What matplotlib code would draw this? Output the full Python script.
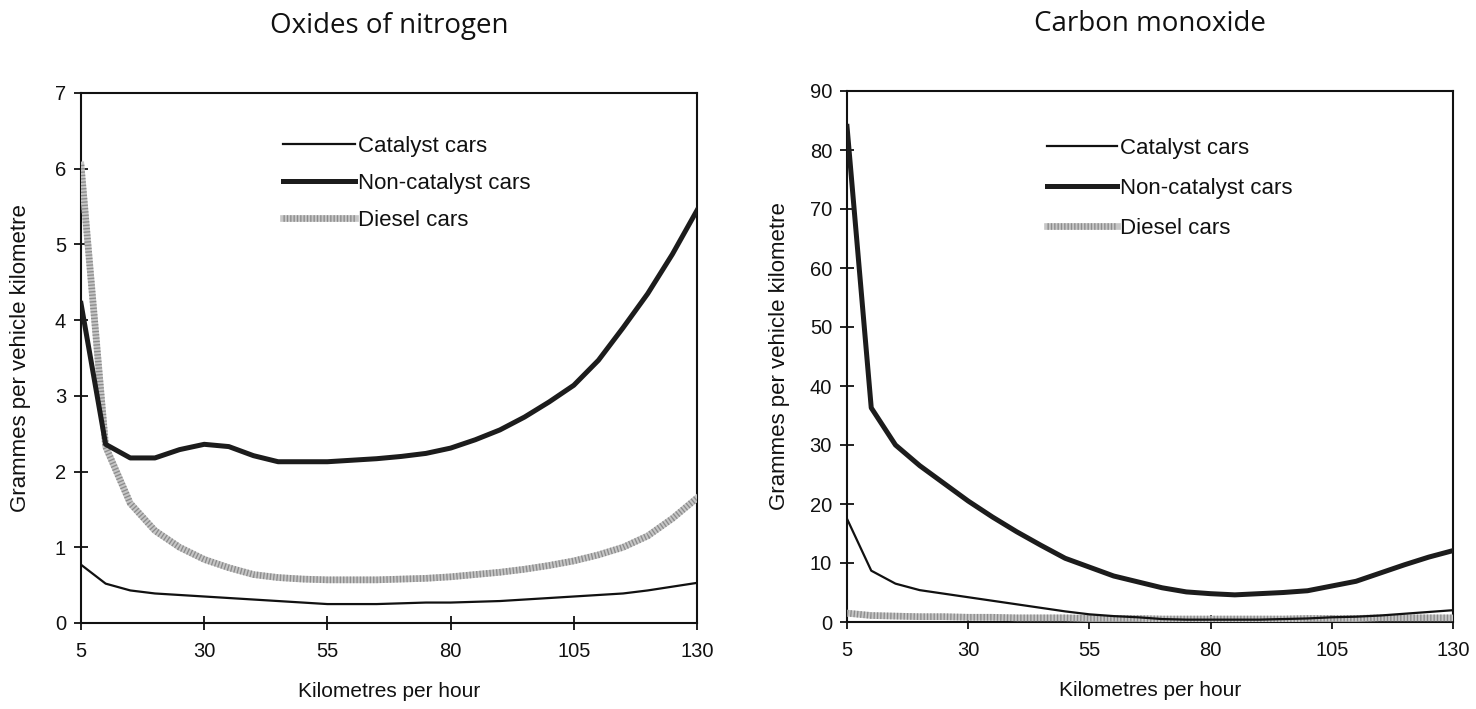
import matplotlib
matplotlib.use("Agg")
import matplotlib.pyplot as plt
from matplotlib.legend_handler import HandlerTuple

# Speeds (km/h)
speeds = [5, 10, 15, 20, 25, 30, 35, 40, 45, 50, 55, 60, 65,
          70, 75, 80, 85, 90, 95, 100, 105, 110, 115, 120, 125, 130]

# Oxides of nitrogen (g per vehicle km)
nox_catalyst = [0.77, 0.52, 0.43, 0.39, 0.37, 0.35, 0.33, 0.31, 0.29, 0.27, 0.25, 0.25, 0.25,
                0.26, 0.27, 0.27, 0.28, 0.29, 0.31, 0.33, 0.35, 0.37, 0.39, 0.43, 0.48, 0.53]
nox_noncatalyst = [4.22, 2.36, 2.18, 2.18, 2.29, 2.36, 2.33, 2.21, 2.13, 2.13, 2.13, 2.15, 2.17,
                   2.20, 2.24, 2.31, 2.42, 2.55, 2.72, 2.92, 3.14, 3.47, 3.90, 4.35, 4.87, 5.45]
nox_diesel = [6.05, 2.33, 1.58, 1.22, 1.00, 0.84, 0.73, 0.64, 0.60, 0.58, 0.57, 0.57, 0.57,
              0.58, 0.59, 0.61, 0.64, 0.67, 0.71, 0.76, 0.82, 0.90, 1.00, 1.15, 1.38, 1.65]

# Carbon monoxide (g per vehicle km)
co_catalyst = [17.5, 8.7, 6.5, 5.4, 4.8, 4.2, 3.6, 3.0, 2.4, 1.8, 1.3, 1.0, 0.8,
               0.5, 0.4, 0.4, 0.4, 0.4, 0.5, 0.6, 0.8, 0.9, 1.1, 1.4, 1.7, 2.0]
co_noncatalyst = [84.0, 36.3, 30.0, 26.5, 23.5, 20.5, 17.8, 15.3, 13.0, 10.8, 9.3, 7.8, 6.8,
                  5.8, 5.1, 4.8, 4.6, 4.8, 5.0, 5.3, 6.1, 6.9, 8.3, 9.7, 11.0, 12.1]
co_diesel = [1.5, 1.1, 1.0, 0.9, 0.9, 0.8, 0.8, 0.7, 0.7, 0.7, 0.6, 0.6, 0.6,
             0.5, 0.5, 0.5, 0.5, 0.5, 0.5, 0.6, 0.6, 0.6, 0.7, 0.7, 0.7, 0.7]

x_ticks = [5, 30, 55, 80, 105, 130]
nox_yticks = [0, 1, 2, 3, 4, 5, 6, 7]
co_yticks = [0, 10, 20, 30, 40, 50, 60, 70, 80, 90]

series_labels = ["Catalyst cars", "Non-catalyst cars", "Diesel cars"]
titles = ["Oxides of nitrogen", "Carbon monoxide"]
x_label = "Kilometres per hour"
y_label = "Grammes per vehicle kilometre"

plt.rcParams["font.family"] = ["Liberation Sans", "DejaVu Sans"]

W, H = 1476, 709
fig = plt.figure(figsize=(W / 100, H / 100), dpi=100)
fig.patch.set_facecolor("white")


def px_axes(left, right, top, bottom):
    return [left / W, 1 - bottom / H, (right - left) / W, (bottom - top) / H]


ax1 = fig.add_axes(px_axes(81, 697, 93, 623))
ax2 = fig.add_axes(px_axes(847, 1453, 91, 622))


def draw_panel(ax, cat, noncat, diesel, yticks, title, leg_anchor, leg_space, leg_hlen):
    l_cat, = ax.plot(speeds, cat, color="#111111", lw=1.6, solid_joinstyle="round", zorder=4)
    l_non, = ax.plot(speeds, noncat, color="#1c1c1c", lw=3.6, solid_joinstyle="round", zorder=5)
    l_dsl_base, = ax.plot(speeds, diesel, color="#c6c6c6", lw=4.8, solid_joinstyle="round", zorder=3)
    l_dsl_tex, = ax.plot(speeds, diesel, color="#8c8c8c", lw=4.8, dashes=(0.2, 0.3), zorder=3)

    ax.set_xlim(speeds[0], speeds[-1])
    ax.set_ylim(yticks[0], yticks[-1])
    ax.set_xticks(x_ticks)
    ax.set_yticks(yticks)
    ax.tick_params(axis="both", direction="inout", length=9.5, width=1.3,
                   labelsize=14.5, colors="#111111")
    ax.tick_params(axis="x", pad=9)
    ax.tick_params(axis="y", pad=6)
    for sp in ax.spines.values():
        sp.set_linewidth(1.5)
        sp.set_color("#111111")

    ax.set_title(title, family=["Open Sans", "DejaVu Sans"], fontsize=20,
                 color="#111111", pad=43)
    ax.set_xlabel(x_label, fontsize=15, color="#111111")
    ax.xaxis.set_label_coords(0.5, -0.112)
    ax.set_ylabel(y_label, fontsize=16, color="#111111")

    leg = ax.legend([l_cat, l_non, (l_dsl_base, l_dsl_tex)], series_labels,
                    handler_map={tuple: HandlerTuple(ndivide=1, pad=0)},
                    loc="upper left", bbox_to_anchor=leg_anchor,
                    bbox_transform=fig.transFigure, frameon=False,
                    fontsize=16, borderpad=0, borderaxespad=0,
                    handlelength=leg_hlen, handletextpad=0.12,
                    labelspacing=leg_space)
    for t in leg.get_texts():
        t.set_color("#111111")
    return ax


draw_panel(ax1, nox_catalyst, nox_noncatalyst, nox_diesel, nox_yticks, titles[0],
           (283 / W, 1 - 136 / H), 0.72, 3.24)
draw_panel(ax2, co_catalyst, co_noncatalyst, co_diesel, co_yticks, titles[1],
           (1047 / W, 1 - 138 / H), 0.85, 3.15)

ax1.yaxis.set_label_coords(-0.081, 0.5)
ax2.yaxis.set_label_coords(-0.094, 0.5)

fig.savefig("out.png", dpi=100, facecolor="white")
